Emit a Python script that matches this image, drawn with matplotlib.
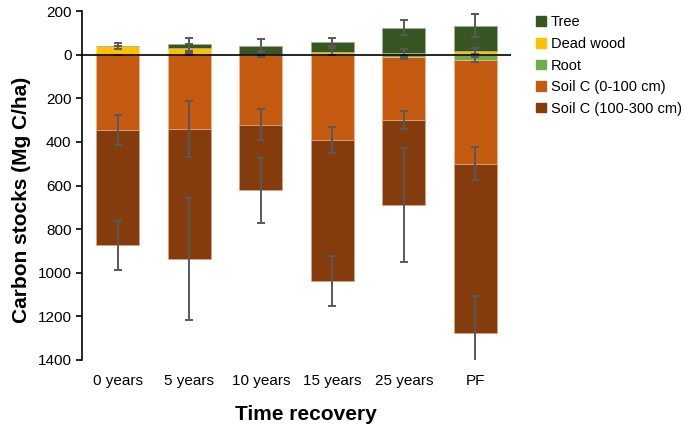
import matplotlib.pyplot as plt
import numpy as np
from matplotlib.patches import Patch
from matplotlib.ticker import FuncFormatter

plt.rcParams['font.family'] = ['Liberation Sans', 'DejaVu Sans']

# dados (Mg C/ha)
categorias = ["0 years", "5 years", "10 years", "15 years", "25 years", "PF"]

# acima do solo
tree = [0, 17, 38, 45, 117, 117]
tree_err = [0, 31, 30, 20, 35, 52]
dead_wood = [39, 30, 3, 14, 7, 17]
dead_wood_err = [14, 20, 12, 17, 18, 15]

# abaixo do solo
root = [0, 0, 2, 0, 12, 23]
root_err = [0, 0, 0, 0, 8, 11]
soil_0_100 = [344, 340, 319, 390, 289, 476]
soil_0_100_err = [68, 128, 72, 59, 41, 77]
soil_100_300 = [531, 596, 301, 647, 387, 776]
soil_100_300_err = [111, 280, 150, 116, 262, 170]

cores = {
    "Tree": "#375623",
    "Dead wood": "#FFC000",
    "Root": "#70AD47",
    "Soil C (0-100 cm)": "#C55A11",
    "Soil C (100-300 cm)": "#843C0C",
}
bordas = {
    "Tree": "#9DB08F",
    "Dead wood": "#FFE08A",
    "Root": "#B5D6A0",
    "Soil C (0-100 cm)": "#F0B894",
    "Soil C (100-300 cm)": "#D9A582",
}

x = np.arange(len(categorias))
largura = 0.6
cor_erro = "#595959"

fig = plt.figure(figsize=(6.85, 4.28), dpi=100)
ax = fig.add_axes([0.1197, 0.159, 0.6263, 0.815])


def empilhar(valores, erros, base, nome, sinal):
    valores = np.array(valores, dtype=float) * sinal
    ax.bar(x, valores, largura, bottom=base, color=cores[nome],
           edgecolor=bordas[nome], linewidth=0.6, zorder=2)
    topo = base + valores
    ax.errorbar(x, topo, yerr=erros, fmt="none", ecolor=cor_erro,
                elinewidth=1.4, capsize=3, capthick=1.4, zorder=4)
    return topo


# acima de zero
base_pos = np.zeros(len(x))
base_pos = empilhar(dead_wood, dead_wood_err, base_pos, "Dead wood", 1)
base_pos = empilhar(tree, tree_err, base_pos, "Tree", 1)

# abaixo de zero
base_neg = np.zeros(len(x))
base_neg = empilhar(root, root_err, base_neg, "Root", -1)
base_neg = empilhar(soil_0_100, soil_0_100_err, base_neg, "Soil C (0-100 cm)", -1)
base_neg = empilhar(soil_100_300, soil_100_300_err, base_neg, "Soil C (100-300 cm)", -1)

ax.axhline(0, color="black", linewidth=1.2, zorder=5)

ax.set_xlim(-0.5, len(x) - 0.5)
ax.set_ylim(-1400, 200)
ax.set_yticks(np.arange(-1400, 201, 200))
ax.yaxis.set_major_formatter(FuncFormatter(lambda v, p: f"{abs(v):.0f}"))
ax.set_xticks(x)
ax.set_xticklabels(categorias)
ax.tick_params(axis="x", length=0, labelsize=11, pad=10)
ax.tick_params(axis="y", labelsize=11, length=4, width=1.2)

for lado in ["top", "right", "bottom"]:
    ax.spines[lado].set_visible(False)
ax.spines["left"].set_linewidth(1.2)

ax.set_xlabel("Time recovery", fontsize=15, fontweight="bold")
ax.set_ylabel("Carbon stocks (Mg C/ha)", fontsize=15, fontweight="bold")
ax.xaxis.set_label_coords(0.522, -0.128)
ax.yaxis.set_label_coords(-0.118, 0.458)

ordem = ["Tree", "Dead wood", "Root", "Soil C (0-100 cm)", "Soil C (100-300 cm)"]
handles = [Patch(facecolor=cores[n], edgecolor=cores[n]) for n in ordem]
fig.legend(handles, ordem, loc="upper left", bbox_to_anchor=(0.768, 0.988),
           frameon=False, fontsize=10.5, handlelength=0.65, handleheight=0.65,
           handletextpad=0.35, labelspacing=0.52, borderaxespad=0.3)

fig.savefig("out.png", dpi=100)
